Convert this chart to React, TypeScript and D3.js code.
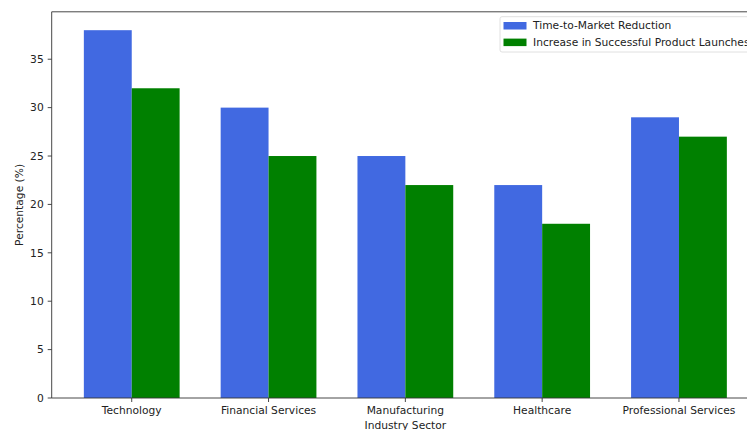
import React from "react";
import * as d3 from "d3";

const categories = ["Technology", "Financial Services", "Manufacturing", "Healthcare", "Professional Services"];
const timeToMarket = [38, 30, 25, 22, 29];
const successfulLaunches = [32, 25, 22, 18, 27];
const yTicks = [0, 5, 10, 15, 20, 25, 30, 35];
const seriesNames = ["Time-to-Market Reduction", "Increase in Successful Product Launches"];
const seriesColors = ["#4169E1", "#008000"];

const W = 747;
const H = 430;
const left = 51.7;
const right = 759;
const top = 11.8;
const bottom = 398;
const barW = 0.35;
const font = "'DejaVu Sans', sans-serif";
const fs = 10.7;
const ink = "#222";

export default function App() {
  const x = d3.scaleLinear().domain([-0.585, 4.585]).range([left, right]);
  const y = d3.scaleLinear().domain([0, 39.9]).range([bottom, top]);
  const series = [timeToMarket, successfulLaunches];

  return (
    <svg width={W} height={H} style={{ position: "absolute", left: 0, top: 0, background: "#fff" }}>
      <rect x={0} y={0} width={W} height={H} fill="#fff" />
      {series.map((vals, si) =>
        vals.map((v, i) => {
          const x0 = x(i - barW + si * barW);
          const x1 = x(i + si * barW);
          return (
            <rect key={`${si}-${i}`} x={x0} y={y(v)} width={x1 - x0} height={y(0) - y(v)} fill={seriesColors[si]} />
          );
        })
      )}
      {/* spines */}
      <line x1={left} x2={left} y1={top} y2={bottom} stroke="#333" strokeWidth={0.9} />
      <line x1={left} x2={W} y1={bottom} y2={bottom} stroke="#333" strokeWidth={0.9} />
      <line x1={left} x2={W} y1={top} y2={top} stroke="#333" strokeWidth={0.9} />
      {/* y ticks */}
      {yTicks.map((t) => (
        <g key={t}>
          <line x1={left - 4} x2={left} y1={y(t)} y2={y(t)} stroke="#333" strokeWidth={0.9} />
          <text x={left - 8} y={y(t)} dy="0.35em" textAnchor="end" fontSize={fs} fontFamily={font} fill={ink}>
            {t}
          </text>
        </g>
      ))}
      {/* x ticks */}
      {categories.map((c, i) => (
        <g key={c}>
          <line x1={x(i)} x2={x(i)} y1={bottom} y2={bottom + 4} stroke="#333" strokeWidth={0.9} />
          <text x={x(i)} y={bottom + 15.5} textAnchor="middle" fontSize={fs} fontFamily={font} fill={ink}>
            {c}
          </text>
        </g>
      ))}
      <text x={(left + right) / 2} y={428.5} textAnchor="middle" fontSize={fs} fontFamily={font} fill={ink}>
        Industry Sector
      </text>
      <text
        transform={`translate(22.5, ${(top + bottom) / 2}) rotate(-90)`}
        textAnchor="middle"
        fontSize={fs}
        fontFamily={font}
        fill={ink}
      >
        Percentage (%)
      </text>
      {/* legend */}
      <rect x={500} y={16.7} width={280} height={35.3} rx={2} fill="#fff" fillOpacity={0.8} stroke="#d8d8d8" strokeWidth={0.8} />
      {seriesNames.map((n, i) => (
        <g key={n}>
          <rect x={503.5} y={22 + i * 16.6} width={23} height={7.5} fill={seriesColors[i]} />
          <text x={533} y={25.7 + i * 16.6} dy="0.35em" fontSize={fs} fontFamily={font} fill={ink}>
            {n}
          </text>
        </g>
      ))}
    </svg>
  );
}
